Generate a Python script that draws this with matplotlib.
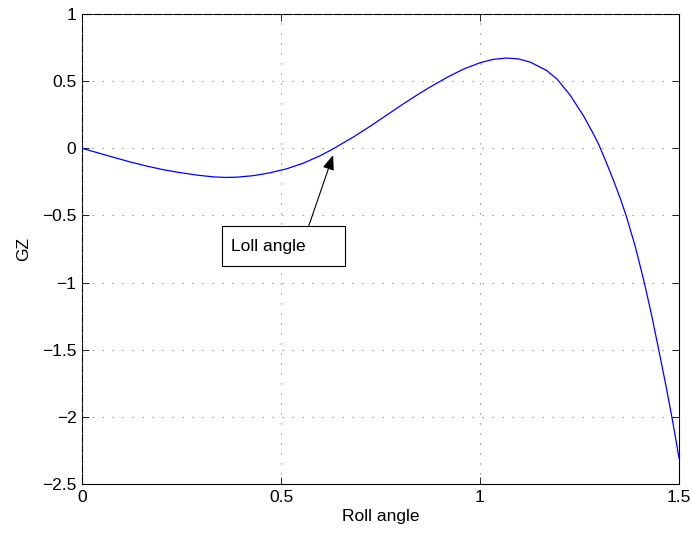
import matplotlib
matplotlib.use("Agg")
import matplotlib.pyplot as plt
from matplotlib.patches import Rectangle

plt.rcParams['font.family'] = ['Liberation Sans', 'DejaVu Sans']

roll_angle = [0.0, 0.04, 0.079, 0.12, 0.162, 0.205, 0.246, 0.29, 0.33, 0.36,
              0.39, 0.43, 0.47, 0.514, 0.555, 0.598, 0.63, 0.684, 0.724,
              0.765, 0.807, 0.85, 0.874, 0.916, 0.958, 1.0, 1.033, 1.066, 1.096,
              1.126, 1.167, 1.193, 1.226, 1.26, 1.285, 1.30, 1.318, 1.335, 1.352,
              1.367, 1.39, 1.412, 1.431, 1.449, 1.466, 1.482, 1.491, 1.5]
gz = [0.0, -0.034, -0.067, -0.101, -0.132, -0.16, -0.181, -0.200, -0.213, -0.217,
      -0.215, -0.204, -0.184, -0.153, -0.112, -0.056, -0.006, 0.088, 0.164,
      0.246, 0.330, 0.412, 0.455, 0.526, 0.589, 0.637, 0.662, 0.672, 0.666,
      0.642, 0.580, 0.517, 0.398, 0.242, 0.107, 0.017, -0.11, -0.236, -0.37,
      -0.5, -0.73, -0.99, -1.24, -1.5, -1.75, -2.0, -2.15, -2.308]

xticks = [0, 0.5, 1, 1.5]
yticks = [-2.5, -2, -1.5, -1, -0.5, 0, 0.5, 1]
xtick_labels = ['0', '0.5', '1', '1.5']
ytick_labels = ['\u22122.5', '\u22122', '\u22121.5', '\u22121', '\u22120.5', '0', '0.5', '1']

fig = plt.figure(figsize=(6.92, 5.34), dpi=100)
ax = fig.add_axes([82/692, 1-484/534, 597/692, 470/534])

ax.plot(roll_angle, gz, color=(0, 0, 1), lw=0.9)

ax.set_xlim(0, 1.5)
ax.set_ylim(-2.5, 1)
ax.set_xticks(xticks)
ax.set_xticklabels(xtick_labels)
ax.set_yticks(yticks)
ax.set_yticklabels(ytick_labels)
ax.tick_params(direction='in', top=True, right=True, length=5, width=0.6,
               labelsize=12.5, colors='black', pad=4)
ax.grid(True, color=(0.45, 0.45, 0.45), linestyle=(0, (1, 8)), linewidth=0.8)
for s in ax.spines.values():
    s.set_linewidth(0.8)
    s.set_zorder(0.5)

ax.set_xlabel('Roll angle', fontsize=12.5, labelpad=3)
ax.set_ylabel('GZ', fontsize=12.5, labelpad=8)

# annotation: arrow and text box
ax.annotate('', xy=(0.631, -0.05), xytext=(0.568, -0.593),
            arrowprops=dict(arrowstyle='-|>,head_length=0.9,head_width=0.35',
                            color='black', lw=0.8, shrinkA=0, shrinkB=0))
box = Rectangle((222/692, 1-266/534), 123/692, 40/534, transform=fig.transFigure,
                facecolor='white', edgecolor='black', lw=0.8, zorder=5)
fig.patches.append(box)
fig.text(231/692, 1-246/534, 'Loll angle', fontsize=12.5, va='center', ha='left', zorder=6)

fig.savefig('out.png', dpi=100)
